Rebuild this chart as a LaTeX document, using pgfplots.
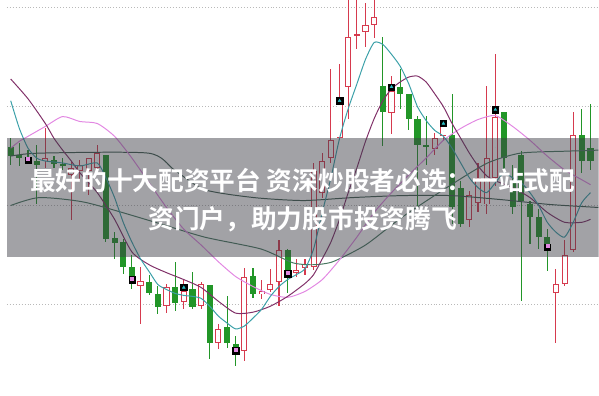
\documentclass[border=0pt]{standalone}
\usepackage{fontspec}
\usepackage{pgfplots}
\usepackage{pgfplotstable}
\pgfplotsset{compat=1.18}
\newfontfamily\cjk{Noto Sans CJK SC}[BoldFont={Noto Sans CJK SC Bold}]

\definecolor{cRed}{RGB}{214,58,78}
\definecolor{cGreen}{RGB}{34,150,40}
\definecolor{cTeal}{RGB}{58,160,168}
\definecolor{cPurple}{RGB}{128,48,104}
\definecolor{cPink}{RGB}{226,136,226}
\definecolor{cMaA}{RGB}{62,92,78}
\definecolor{cMaB}{RGB}{72,120,96}
\definecolor{cBand}{RGB}{60,60,70}

% falling candles (open > close)
\pgfplotstableread{
i open high low close
0 251 260 233 242
1 243 255 232 240
2 241 248 234 239
3 237 253 193 233
5 238 242 230 234
6 234 240 228 232
11 243 243 155 158
12 159 165 138 154
13 155 158 123 130
14 130 142 107 119
16 115 122 101 103
17 102 111 82 89
19 109 135 85 93
21 107 125 87 89
23 112 112 37 53
25 69 100 48 53
26 52 60 30 48
28 121 129 98 102
32 147 148 103 127
43 313 363 252 287
45 312 330 290 305
46 305 305 268 280
47 280 283 190 253
48 253 283 233 251
51 263 305 173 190
52 210 217 170 173
57 287 287 227 240
58 217 233 183 190
59 243 247 95 197
60 193 197 153 180
61 180 188 148 160
62 160 168 126 153
66 263 290 225 237
67 250 295 228 237
}\fallT

% rising candles (close > open)
\pgfplotstableread{
i open high low close
4 237 270 230 240
7 223 237 177 230
8 227 238 217 233
9 227 240 203 240
10 230 253 227 245
15 111 130 72 116
18 90 113 83 109
20 94 118 87 105
22 90 115 87 113
24 53 72 47 67
27 45 129 35 120
29 102 117 97 105
30 106 128 104 113
31 115 157 90 147
33 124 138 120 127
34 129 138 122 133
35 130 235 127 227
36 205 245 200 237
37 240 330 235 258
38 260 335 258 295
39 312 400 280 363
40 364 400 350 366
41 368 397 352 375
42 375 400 362 383
44 286 323 264 308
49 249 265 243 260
50 262 278 257 272
53 177 207 170 203
54 195 235 185 220
55 193 313 183 240
56 220 345 212 282
63 103 128 53 113
64 113 157 110 142
65 147 287 145 263
}\riseT

\pgfplotsset{
  candle/.style={only marks, mark=*, mark size=0pt, mark options={draw=none, fill=none},
    error bars/.cd, y dir=both, y explicit, error mark=none},
}

\begin{document}
\begin{tikzpicture}
\begin{axis}[
  width=599bp, height=400bp, scale only axis,
  xmin=-0.457, xmax=67.92, ymin=0, ymax=400,
  axis line style={draw=none},
  major tick length=0pt,
  xtick=\empty, ytick={92,192,292,392}, yticklabels={},
  ymajorgrids,
  grid style={gray!55, line width=1bp, dash pattern=on 1bp off 2bp},
]
% wicks
\addplot[candle, error bar style={line width=1.1bp, cGreen}]
  table[x=i, y expr={(\thisrow{high}+\thisrow{low})/2}, y error expr={(\thisrow{high}-\thisrow{low})/2}] {\fallT};
\addplot[candle, error bar style={line width=1.1bp, cRed}]
  table[x=i, y expr={(\thisrow{high}+\thisrow{low})/2}, y error expr={(\thisrow{high}-\thisrow{low})/2}] {\riseT};
% filled bodies of falling candles
\addplot[candle, error bar style={line width=6.2bp, cGreen}]
  table[x=i, y expr={(\thisrow{open}+\thisrow{close})/2}, y error expr={max((\thisrow{open}-\thisrow{close})/2,0.7)}] {\fallT};
% hollow bodies of rising candles
\addplot[candle, error bar style={line width=6.2bp, cRed}]
  table[x=i, y expr={(\thisrow{open}+\thisrow{close})/2}, y error expr={max((\thisrow{close}-\thisrow{open})/2,0.7)}] {\riseT};
\addplot[candle, error bar style={line width=4.2bp, white}]
  table[x=i, y expr={(\thisrow{open}+\thisrow{close})/2}, y error expr={max((\thisrow{close}-\thisrow{open})/2-1,0)}] {\riseT};

% moving averages
\addplot[cMaA, line width=1bp, smooth, tension=0.4] coordinates {
(0,242) (3.3,245) (15.9,245) (18.9,228) (22.4,208) (28.1,200) (33.8,197) (39.5,200)
(45.2,202) (50.9,202) (56.6,198) (62.3,193) (67.9,190)};
\addplot[cMaB, line width=1bp, smooth, tension=0.4] coordinates {
(0,192) (3.3,200) (8.7,195) (16.7,175) (22.4,160) (28.9,148) (32.6,134) (34.9,132)
(37.2,135) (41.0,152) (45.2,180) (50.9,213) (55.1,235) (58.9,245) (64.3,247) (67.9,248)};
\addplot[cPink, line width=1bp, smooth, tension=0.4] coordinates {
(0,250) (1,257) (2,262) (4,272) (6,282) (8,277) (10,275) (12,262) (14,240) (16,215)
(18,190) (20,168) (22,152) (24,135) (26,120) (28,110) (30,102) (32,99) (34,105) (36,117)
(38,137) (40,160) (42,185) (44,205) (46,223) (48,240) (50,258) (52,270) (54,279) (56,283)
(58,272) (60,258) (62,242) (64,228) (66,218) (67,213)};
\addplot[cPurple, line width=1bp, smooth, tension=0.4] coordinates {
(0,320) (2,300) (4,275) (5,260) (6,248) (7,237) (8,225) (10,205) (12,178) (14,145)
(16,132) (18,124) (20,117) (22,109) (24,95) (26,83) (28,84) (30,90) (32,100) (34,113)
(35,122) (36,138) (37,155) (38,178) (39,205) (40,230) (41,257) (42,280) (43,298) (44,310)
(45,317) (46,322) (47,323) (48,317) (49,305) (50,292) (51,275) (52,260) (53,245) (54,232)
(55,222) (56,217) (58,210) (60,200) (62,185) (64,175) (66,175) (67,178)};
\addplot[cTeal, line width=1bp, smooth, tension=0.4] coordinates {
(0,298) (1,270) (2,250) (3,240) (4,237) (6,235) (8,232) (10,235) (11,220) (12,200)
(13,175) (14,155) (15,138) (16,125) (17,112) (18,107) (19,103) (20,101) (21,100) (22,98)
(23,90) (24,80) (25,73) (26,67) (27,70) (28,78) (29,87) (30,100) (31,110) (32,117)
(33,122) (34,128) (35,148) (36,185) (37,220) (38,260) (39,290) (40,315) (41,340) (42,357)
(43,355) (44,345) (45,333) (46,315) (47,292) (48,278) (49,268) (50,262) (51,250) (52,235)
(53,220) (54,210) (55,205) (56,215) (57,225) (58,220) (59,215) (60,205) (61,192) (62,175)
(63,165) (64,160) (65,175) (66,195) (67,205)};

% signal markers
\addplot[only marks, mark=square*, mark size=3.2bp, mark options={fill=black, draw=black}] coordinates {
(2,238) (14,117) (20,109) (26,45) (32,123) (38,298) (44,312) (50,275) (56,289) (62,150)};
\addplot[only marks, mark=triangle*, mark size=1.7bp, mark options={fill=cTeal!70!cyan, draw=cTeal!70!cyan}] coordinates {
(20,109) (38,298) (44,312) (50,275) (56,289)};
\addplot[only marks, mark=square*, mark size=1.5bp, mark options={fill=cPink, draw=cPink}] coordinates {
(2,239) (14,118) (26,46) (32,124) (62,151)};

% banner
\fill[cBand, opacity=0.48] (rel axis cs:0,0.35) rectangle (rel axis cs:1,0.65);
\node[text=white, font=\cjk\bfseries\fontsize{26bp}{30bp}\selectfont, anchor=center, inner sep=0pt]
  at (rel axis cs:0.5,0.5425) {最好的十大配资平台 资深炒股者必选：一站式配};
\node[text=white, font=\cjk\bfseries\fontsize{26bp}{30bp}\selectfont, anchor=center, inner sep=0pt]
  at (rel axis cs:0.5,0.445) {资门户，助力股市投资腾飞};
\end{axis}
\end{tikzpicture}
\end{document}
